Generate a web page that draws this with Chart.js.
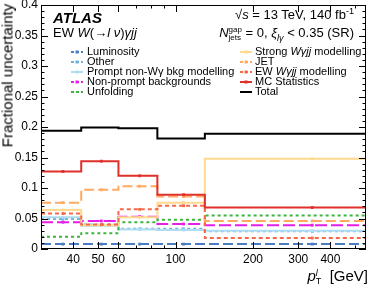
<!DOCTYPE html>
<html>
<head>
<meta charset="utf-8">
<script src="https://cdn.jsdelivr.net/npm/chart.js@4"></script>
<style>
  body { margin: 0; background: #fff; }
  #wrap { position: relative; width: 374px; height: 290px; font-family: "Liberation Sans", Arial, sans-serif; color: #000; }
  .t { position: absolute; white-space: nowrap; line-height: 1; }
  .leg { font-size: 11px; }
  sup, sub { font-size: 70%; line-height: 0; }
</style>
</head>
<body>
<div id="wrap">
  <canvas id="c" width="374" height="290"></canvas>
  <div class="t" style="left:53px;top:10px;font-size:15px;font-weight:bold;font-style:italic;">ATLAS</div>
  <div class="t" style="left:53px;top:26px;font-size:13px;">EW <i>W</i>(&rarr;<i>l</i>&nbsp;<i>&nu;</i>)<i>&gamma;jj</i></div>
  <div class="t" style="right:20px;top:8px;font-size:13px;">&radic;<i>s</i> = 13 TeV, 140 fb<sup>-1</sup></div>
  <div class="t" style="right:20px;top:26px;font-size:13px;"><i>N</i><span style="display:inline-block;vertical-align:middle;line-height:0.9;font-size:8px;text-align:left;"><span style="display:block;">gap</span><span style="display:block;">jets</span></span> = 0, <i>&xi;</i><sub><i>l&gamma;</i></sub> &lt; 0.35 (SR)</div>

  <div class="t leg" style="left:87px;top:46px;">Luminosity</div>
  <div class="t leg" style="left:87px;top:56px;">Other</div>
  <div class="t leg" style="left:87px;top:66px;">Prompt non-W&gamma; bkg modelling</div>
  <div class="t leg" style="left:87px;top:76px;">Non-prompt backgrounds</div>
  <div class="t leg" style="left:87px;top:86px;">Unfolding</div>
  <div class="t leg" style="left:255px;top:46px;">Strong <i>W&gamma;jj</i> modelling</div>
  <div class="t leg" style="left:255px;top:56px;">JET</div>
  <div class="t leg" style="left:255px;top:66px;">EW <i>W&gamma;jj</i> modelling</div>
  <div class="t leg" style="left:255px;top:76px;">MC Statistics</div>
  <div class="t leg" style="left:255px;top:86px;">Total</div>

  <div class="t" style="left:-68px;top:68px;width:150px;text-align:center;font-size:15px;transform:rotate(-90deg);">Fractional uncertainty</div>
  <div class="t" style="right:6px;top:268px;font-size:15px;"><i>p</i><span style="display:inline-block;vertical-align:middle;line-height:0.9;font-size:9px;text-align:left;"><span style="display:block;"><i>l</i></span><span style="display:block;">T</span></span>&nbsp; [GeV]</div>
</div>
<script>
// bin edges and centres in pT [GeV]
const edges = [30, 43, 60, 85, 130, 550];
const centers = [36.5, 51.5, 72.5, 107.5, 340];

const lumi      = [0.008, 0.008, 0.008, 0.008, 0.008];
const other     = [0.049, 0.040, 0.033, 0.033, 0.029];
const promptBkg = [0.052, 0.038, 0.032, 0.031, 0.030];
const nonPrompt = [0.044, 0.046, 0.053, 0.041, 0.039];
const unfolding = [0.020, 0.026, 0.044, 0.048, 0.055];
const strongMod = [0.064, 0.039, 0.052, 0.076, 0.148];
const jet       = [0.076, 0.097, 0.103, 0.086, 0.046];
const ewMod     = [0.058, 0.040, 0.065, 0.071, 0.018];
const mcStat    = [0.127, 0.144, 0.120, 0.089, 0.068];
const total     = [0.194, 0.199, 0.198, 0.181, 0.189];

const xLabels = [40, 50, 60, 100, 200, 300, 400];
const yTicks = [0, 0.05, 0.1, 0.15, 0.2, 0.25, 0.3, 0.35, 0.4];

// histogram as step line, marker at bin centre
function steps(vals) {
  let pts = [];
  vals.forEach((v, i) => {
    pts.push({x: edges[i], y: v});
    pts.push({x: centers[i], y: v});
  });
  pts.push({x: edges[edges.length - 1], y: vals[vals.length - 1]});
  return pts;
}

const series = [
  {label: "Luminosity", data: lumi, color: "#4a7cc4", dash: [10, 4], marker: true, col: 0},
  {label: "Other", data: other, color: "#6fb0dc", dash: [3, 3], marker: true, col: 0},
  {label: "Prompt non-Wγ bkg modelling", data: promptBkg, color: "#aedcf2", dash: [], marker: true, col: 0},
  {label: "Non-prompt backgrounds", data: nonPrompt, color: "#e61ee6", dash: [12, 4], marker: true, col: 0},
  {label: "Unfolding", data: unfolding, color: "#3db43d", dash: [3, 3], marker: false, col: 0},
  {label: "Strong Wγjj modelling", data: strongMod, color: "#ffd98c", dash: [], marker: true, col: 1},
  {label: "JET", data: jet, color: "#ffaa60", dash: [10, 4], marker: true, col: 1},
  {label: "EW Wγjj modelling", data: ewMod, color: "#f4694a", dash: [4, 3], marker: true, col: 1},
  {label: "MC Statistics", data: mcStat, color: "#e0302a", dash: [], marker: true, col: 1},
  {label: "Total", data: total, color: "#000000", dash: [], marker: false, col: 1}
];

const datasets = series.map((s, k) => ({
  label: s.label,
  data: steps(s.data),
  stepped: "before",
  borderColor: s.color,
  backgroundColor: s.color,
  borderWidth: 2,
  borderDash: s.dash,
  pointStyle: "rect",
  pointRadius: ctx => (s.marker && ctx.dataIndex % 2 === 1) ? 2 : 0,
  pointBorderWidth: 0,
  fill: false,
  order: series.length - k
}));

// frame, inward ticks and legend samples
const atlasFrame = {
  id: "atlasFrame",
  afterDraw(chart) {
    const ctx = chart.ctx, a = chart.chartArea;
    const xs = chart.scales.x, ys = chart.scales.y;
    ctx.save();
    ctx.strokeStyle = "#000";
    ctx.lineWidth = 1;
    ctx.setLineDash([]);
    ctx.strokeRect(a.left + 0.5, a.top + 0.5, a.right - a.left - 1, a.bottom - a.top - 1);
    ctx.beginPath();
    for (let i = 0; i <= 40; i++) {
      const v = i / 100;
      const py = Math.round(ys.getPixelForValue(v)) + 0.5;
      const len = (i % 5 === 0) ? 7 : 3.5;
      ctx.moveTo(a.left, py); ctx.lineTo(a.left + len, py);
      ctx.moveTo(a.right, py); ctx.lineTo(a.right - len, py);
    }
    const xt = [30, 40, 50, 60, 70, 80, 90, 100, 200, 300, 400, 500];
    xt.forEach(v => {
      const px = Math.round(xs.getPixelForValue(v)) + 0.5;
      const len = xLabels.includes(v) ? 7 : 3.5;
      ctx.moveTo(px, a.bottom); ctx.lineTo(px, a.bottom - len);
      ctx.moveTo(px, a.top); ctx.lineTo(px, a.top + len);
    });
    ctx.stroke();

    // legend samples
    series.forEach((s, k) => {
      const row = s.col === 0 ? k : k - 5;
      const y = 52 + row * 10;
      const x0 = s.col === 0 ? 71 : 240;
      ctx.strokeStyle = s.color;
      ctx.lineWidth = 2;
      ctx.setLineDash(s.dash.length ? [3, 2] : []);
      ctx.beginPath();
      ctx.moveTo(x0, y); ctx.lineTo(x0 + 12, y);
      ctx.stroke();
      if (s.marker) {
        ctx.fillStyle = s.color;
        ctx.fillRect(x0 + 4.5, y - 1.5, 3, 3);
      }
    });
    ctx.restore();
  }
};

new Chart(document.getElementById("c"), {
  type: "line",
  data: {datasets: datasets},
  options: {
    responsive: false,
    animation: false,
    devicePixelRatio: 1,
    layout: {padding: {top: 5, right: 8, left: 0, bottom: 0}},
    plugins: {legend: {display: false}, tooltip: {enabled: false}},
    scales: {
      x: {
        type: "logarithmic",
        min: 30,
        max: 550,
        grid: {display: false, drawTicks: false, tickLength: 0},
        border: {display: false},
        afterBuildTicks: scale => {
          scale.ticks = [30, 40, 50, 60, 70, 80, 90, 100, 200, 300, 400, 500].map(v => ({value: v}));
        },
        afterFit: scale => {
          scale.height = 41;
          scale.paddingLeft = 0;
          scale.paddingRight = 0;
        },
        ticks: {
          autoSkip: false,
          maxRotation: 0,
          padding: 3,
          color: "#000",
          font: {family: "Liberation Sans", size: 12},
          callback: v => xLabels.includes(v) ? String(v) : ""
        }
      },
      y: {
        min: 0,
        max: 0.4,
        grid: {display: false, drawTicks: false, tickLength: 0},
        border: {display: false},
        afterBuildTicks: scale => {
          scale.ticks = yTicks.map(v => ({value: v}));
        },
        afterFit: scale => {
          scale.width = 41;
          scale.paddingTop = 0;
          scale.paddingBottom = 0;
        },
        ticks: {
          padding: 3,
          color: "#000",
          font: {family: "Liberation Sans", size: 12},
          callback: v => String(parseFloat(v.toFixed(2)))
        }
      }
    }
  },
  plugins: [atlasFrame]
});
</script>
</body>
</html>
